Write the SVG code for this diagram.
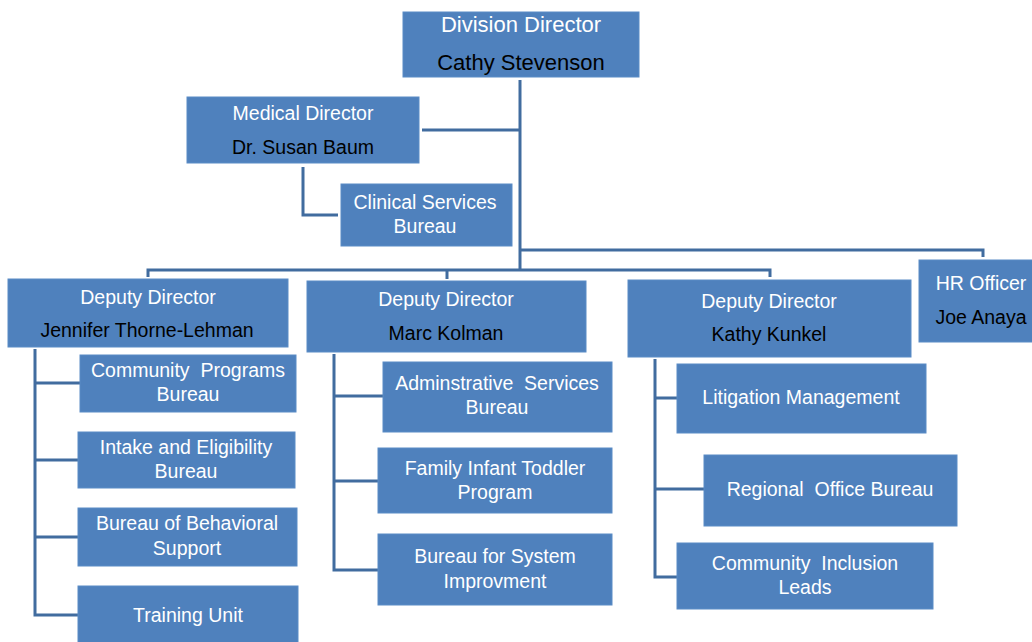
<svg xmlns="http://www.w3.org/2000/svg" width="1032" height="642" viewBox="0 0 1032 642">
  <style>
    .box { fill: #4f81bd; stroke: #5b8cc6; stroke-width: 1; }
    .t { font-family: "Liberation Sans", Arial, sans-serif; font-size: 19.5px; text-anchor: middle; }
    .w { fill: #ffffff; }
    .k { fill: #000000; }
    .big { font-size: 22px; }
    .conn { fill: none; stroke: #416c9f; stroke-width: 3; }
  </style>
  <rect width="1032" height="642" fill="#ffffff"/>

  <g id="connectors">
    <!-- trunk from the division director -->
    <path class="conn" d="M520 80 V270"/>
    <!-- medical director branch -->
    <path class="conn" d="M422 130 H520"/>
    <path class="conn" d="M303 167 V215 H338"/>
    <!-- HR officer branch -->
    <path class="conn" d="M520 250 H983 V257"/>
    <!-- deputy director bus -->
    <path class="conn" d="M148 277 V270 H770 V277"/>
    <path class="conn" d="M447 270 V279"/>
    <!-- Thorne-Lehman bureaus -->
    <path class="conn" d="M35 349 V615 H78 M35 383 H80 M35 460 H78 M35 537 H78"/>
    <!-- Kolman bureaus -->
    <path class="conn" d="M334 354 V570 H378 M334 396 H383 M334 481 H378"/>
    <!-- Kunkel bureaus -->
    <path class="conn" d="M655 359 V577 H677 M655 398 H677 M655 489 H704"/>
  </g>

  <g id="division-director">
    <rect class="box" x="403" y="12" width="236" height="65"/>
    <text class="t big w" x="521" y="32">Division Director</text>
    <text class="t big k" x="521" y="70">Cathy Stevenson</text>
  </g>

  <g id="medical-director">
    <rect class="box" x="187" y="97" width="232" height="66"/>
    <text class="t w" x="303" y="120">Medical Director</text>
    <text class="t k" x="303" y="154">Dr. Susan Baum</text>
  </g>

  <g id="clinical-services">
    <rect class="box" x="341" y="184" width="171" height="62"/>
    <text class="t w" x="425" y="209">Clinical Services</text>
    <text class="t w" x="425" y="233">Bureau</text>
  </g>

  <g id="hr-officer">
    <rect class="box" x="919" y="260" width="124" height="82"/>
    <text class="t w" x="981" y="290">HR Officer</text>
    <text class="t k" x="981" y="324">Joe Anaya</text>
  </g>

  <g id="deputy-thorne-lehman">
    <rect class="box" x="8" y="279" width="280" height="68"/>
    <text class="t w" x="148" y="304">Deputy Director</text>
    <text class="t k" x="147" y="337">Jennifer Thorne-Lehman</text>
  </g>

  <g id="deputy-kolman">
    <rect class="box" x="307" y="281" width="279" height="71"/>
    <text class="t w" x="446" y="306">Deputy Director</text>
    <text class="t k" x="446" y="340">Marc Kolman</text>
  </g>

  <g id="deputy-kunkel">
    <rect class="box" x="628" y="280" width="283" height="77"/>
    <text class="t w" x="769" y="308">Deputy Director</text>
    <text class="t k" x="769" y="341">Kathy Kunkel</text>
  </g>

  <g id="community-programs">
    <rect class="box" x="80" y="355" width="216" height="57"/>
    <text class="t w" x="188" y="377" xml:space="preserve">Community  Programs</text>
    <text class="t w" x="188" y="401">Bureau</text>
  </g>

  <g id="intake-eligibility">
    <rect class="box" x="78" y="432" width="217" height="56"/>
    <text class="t w" x="186" y="454">Intake and Eligibility</text>
    <text class="t w" x="186" y="478">Bureau</text>
  </g>

  <g id="behavioral-support">
    <rect class="box" x="78" y="508" width="219" height="58"/>
    <text class="t w" x="187" y="530">Bureau of Behavioral</text>
    <text class="t w" x="187" y="555">Support</text>
  </g>

  <g id="training-unit">
    <rect class="box" x="78" y="586" width="220" height="60"/>
    <text class="t w" x="188" y="622">Training Unit</text>
  </g>

  <g id="administrative-services">
    <rect class="box" x="383" y="362" width="229" height="70"/>
    <text class="t w" x="497" y="390" xml:space="preserve">Adminstrative  Services</text>
    <text class="t w" x="497" y="414">Bureau</text>
  </g>

  <g id="family-infant-toddler">
    <rect class="box" x="378" y="448" width="234" height="65"/>
    <text class="t w" x="495" y="475">Family Infant Toddler</text>
    <text class="t w" x="495" y="499">Program</text>
  </g>

  <g id="system-improvement">
    <rect class="box" x="378" y="534" width="234" height="71"/>
    <text class="t w" x="495" y="563">Bureau for System</text>
    <text class="t w" x="495" y="588">Improvment</text>
  </g>

  <g id="litigation-management">
    <rect class="box" x="677" y="364" width="249" height="69"/>
    <text class="t w" x="801" y="404">Litigation Management</text>
  </g>

  <g id="regional-office">
    <rect class="box" x="704" y="455" width="253" height="71"/>
    <text class="t w" x="830" y="496" xml:space="preserve">Regional  Office Bureau</text>
  </g>

  <g id="community-inclusion">
    <rect class="box" x="677" y="543" width="256" height="66"/>
    <text class="t w" x="805" y="570" xml:space="preserve">Community  Inclusion</text>
    <text class="t w" x="805" y="594">Leads</text>
  </g>
</svg>
